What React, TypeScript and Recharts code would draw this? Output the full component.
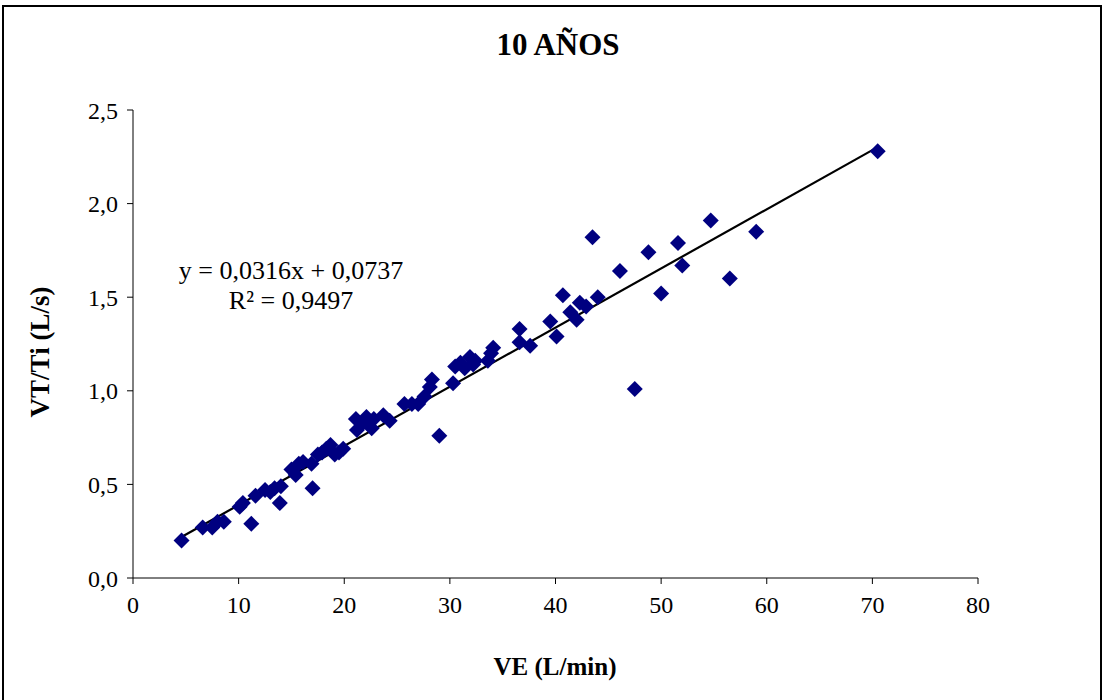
import { ScatterChart, Scatter, XAxis, YAxis, ZAxis } from 'recharts';

// VE (L/min) and VT/Ti (L/s)
const ve = [
  4.6, 6.6, 7.5, 8.0, 8.6, 10.1, 10.4, 11.2, 11.6, 12.5, 13.0, 13.4, 13.9, 14.0,
  15.0, 15.4, 15.7, 16.1, 16.9, 17.0, 17.5, 17.9, 18.3, 18.7, 19.1, 19.5, 19.9,
  21.1, 21.2, 21.8, 22.1, 22.6, 22.8, 23.7, 24.3, 25.7, 26.4, 27.0, 27.6, 28.1,
  28.3, 29.0, 30.3, 30.5, 31.0, 31.4, 31.9, 32.2, 32.4, 33.6, 33.9, 34.1, 36.6,
  36.6, 37.6, 39.5, 40.1, 40.7, 41.4, 42.0, 42.3, 42.9, 43.5, 44.0, 46.1, 47.5,
  48.8, 50.0, 51.6, 52.0, 54.7, 56.5, 59.0, 70.5,
];
const vtTi = [
  0.2, 0.27, 0.27, 0.3, 0.3, 0.38, 0.4, 0.29, 0.44, 0.47, 0.46, 0.48, 0.4, 0.49,
  0.58, 0.55, 0.61, 0.62, 0.61, 0.48, 0.66, 0.67, 0.69, 0.71, 0.66, 0.67, 0.69,
  0.85, 0.79, 0.83, 0.86, 0.8, 0.85, 0.87, 0.84, 0.93, 0.93, 0.93, 0.97, 1.02,
  1.06, 0.76, 1.04, 1.13, 1.15, 1.12, 1.18, 1.14, 1.16, 1.16, 1.2, 1.23, 1.33,
  1.26, 1.24, 1.37, 1.29, 1.51, 1.42, 1.38, 1.47, 1.45, 1.82, 1.5, 1.64, 1.01,
  1.74, 1.52, 1.79, 1.67, 1.91, 1.6, 1.85, 2.28,
];

const xTicks = [0, 10, 20, 30, 40, 50, 60, 70, 80];
const yTicks = [0, 0.5, 1, 1.5, 2, 2.5];

// linear trend shown on the chart
const slope = 0.0316;
const intercept = 0.0737;
const trendX = [4.8, 70.5];

const points = ve.map((x, i) => ({ x, y: vtTi[i] }));
const trend = trendX.map((x) => ({ x, y: slope * x + intercept }));

const serif = '"Liberation Serif", "Times New Roman", serif';
const comma = (v: number) => v.toFixed(1).replace('.', ',');

const Diamond = (props: any) => {
  const { cx, cy } = props;
  const r = 8;
  return (
    <path
      d={`M${cx},${cy - r}L${cx + r},${cy}L${cx},${cy + r}L${cx - r},${cy}Z`}
      fill='#000080'
    />
  );
};

export default function App() {
  return (
    <div
      style={{
        position: 'relative',
        width: 1104,
        height: 700,
        overflow: 'hidden',
        background: '#fff',
        fontFamily: serif,
      }}
    >
      <style>{'body{margin:0}'}</style>
      <div
        style={{
          position: 'absolute',
          left: 2,
          top: 5,
          width: 1096,
          height: 720,
          border: '2px solid #000',
        }}
      />
      <ScatterChart
        width={1104}
        height={700}
        margin={{ top: 110, right: 126, bottom: 82, left: 73 }}
      >
        <XAxis
          type='number'
          dataKey='x'
          domain={[0, 80]}
          ticks={xTicks}
          interval={0}
          height={40}
          stroke='#000'
          tickSize={6}
          tickMargin={12}
          tick={{ fill: '#000', fontSize: 24, fontFamily: serif }}
        />
        <YAxis
          type='number'
          dataKey='y'
          domain={[0, 2.5]}
          ticks={yTicks}
          interval={0}
          width={60}
          stroke='#000'
          tickSize={6}
          tickMargin={9}
          tickFormatter={comma}
          tick={{ fill: '#000', fontSize: 24, fontFamily: serif }}
        />
        <ZAxis range={[100, 100]} />
        <Scatter
          data={trend}
          line={{ stroke: '#000', strokeWidth: 2.2 }}
          shape={() => <g />}
          isAnimationActive={false}
        />
        <Scatter data={points} shape={Diamond} isAnimationActive={false} />
      </ScatterChart>
      <div
        style={{
          position: 'absolute',
          left: 0,
          width: 1116,
          top: 27,
          textAlign: 'center',
          fontWeight: 'bold',
          fontSize: 31,
        }}
      >
        10 AÑOS
      </div>
      <div
        style={{
          position: 'absolute',
          left: 0,
          width: 1110,
          top: 653,
          textAlign: 'center',
          fontWeight: 'bold',
          fontSize: 25,
        }}
      >
        VE (L/min)
      </div>
      <div
        style={{
          position: 'absolute',
          left: 40,
          top: 352,
          transform: 'translate(-50%, -50%) rotate(-90deg)',
          whiteSpace: 'nowrap',
          fontWeight: 'bold',
          fontSize: 27,
        }}
      >
        VT/Ti (L/s)
      </div>
      <div
        style={{
          position: 'absolute',
          left: 158,
          width: 266,
          top: 256,
          textAlign: 'center',
          fontSize: 26,
          lineHeight: '30px',
        }}
      >
        y = 0,0316x + 0,0737
        <br />
        R² = 0,9497
      </div>
    </div>
  );
}
